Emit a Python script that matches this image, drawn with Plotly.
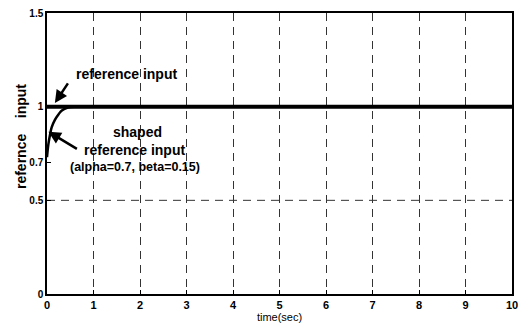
import plotly.graph_objects as go

# data
ref_time = [0, 10]
ref_value = [1, 1]
shaped_time = [0, 0.03, 0.065, 0.1, 0.17, 0.25, 0.32, 0.45, 0.6, 1, 10]
shaped_value = [0.73, 0.80, 0.85, 0.89, 0.93, 0.96, 0.98, 0.995, 1.0, 1.0, 1.0]
x_ticks = [0, 1, 2, 3, 4, 5, 6, 7, 8, 9, 10]
y_ticks = [0, 0.5, 0.7, 1, 1.5]
y_tick_text = ["0", "0.5", "0.7", "1", "1.5"]
h_grid = [0.5, 1]

FONT = "Liberation Sans, Arial, sans-serif"

fig = go.Figure()
fig.add_trace(go.Scatter(x=ref_time, y=ref_value, mode="lines",
                         line=dict(color="black", width=4), showlegend=False))
fig.add_trace(go.Scatter(x=shaped_time, y=shaped_value, mode="lines",
                         line=dict(color="black", width=2.5, shape="spline"),
                         showlegend=False))

for g in h_grid:
    fig.add_shape(type="line", xref="paper", x0=0, x1=1, yref="y", y0=g, y1=g,
                  line=dict(color="#333333", width=1, dash="8px,6px"), layer="below")

fig.update_layout(
    width=522, height=327,
    margin=dict(l=47, r=10, t=13, b=33, autoexpand=False),
    plot_bgcolor="white", paper_bgcolor="white",
    font=dict(family=FONT, color="black"),
    xaxis=dict(range=[0, 10], tickvals=x_ticks, showgrid=True, automargin=False,
               gridcolor="#333333", griddash="8px,6px", gridwidth=1,
               showline=True, linecolor="black", linewidth=1.5, mirror=True,
               ticks="inside", ticklen=4, tickcolor="black",
               tickfont=dict(size=11, weight="bold", family=FONT),
               zeroline=False,
               title=dict(text="time(sec)", font=dict(size=11, family=FONT), standoff=2)),
    yaxis=dict(range=[0, 1.5], tickvals=y_ticks, ticktext=y_tick_text, showgrid=False,
               automargin=False,
               showline=True, linecolor="black", linewidth=1.5, mirror=True,
               ticks="inside", ticklen=4, tickcolor="black",
               tickfont=dict(size=10, weight="bold", family=FONT),
               ticklabelstandoff=0,
               zeroline=False),
)

# y-axis label
fig.add_annotation(text="<b>refernce    input</b>", xref="paper", yref="paper",
                   x=-0.056, y=0.562, textangle=-90, showarrow=False,
                   font=dict(size=14, family=FONT), xanchor="center", yanchor="middle")

# text labels
fig.add_annotation(text="<b>reference input</b>", x=1.72, y=1.177, showarrow=False,
                   font=dict(size=14, family=FONT))
fig.add_annotation(text="<b>shaped</b>", x=1.94, y=0.866, showarrow=False,
                   font=dict(size=14, family=FONT))
fig.add_annotation(text="<b>reference input</b>", x=1.89, y=0.77, showarrow=False,
                   font=dict(size=14, family=FONT))
fig.add_annotation(text="<b>(alpha=0.7, beta=0.15)</b>", x=1.89, y=0.68, showarrow=False,
                   font=dict(size=12.5, family=FONT))

# arrows
fig.add_annotation(text="", x=0.17, y=1.02, ax=14, ay=-21, showarrow=True,
                   arrowhead=2, arrowsize=1, arrowwidth=2.5, arrowcolor="black")
fig.add_annotation(text="", x=0.03, y=0.866, ax=30, ay=18, showarrow=True,
                   arrowhead=2, arrowsize=1, arrowwidth=2.5, arrowcolor="black")

fig.write_html("out.html", config={"displayModeBar": False},
               post_script="document.body.style.margin='0';")
